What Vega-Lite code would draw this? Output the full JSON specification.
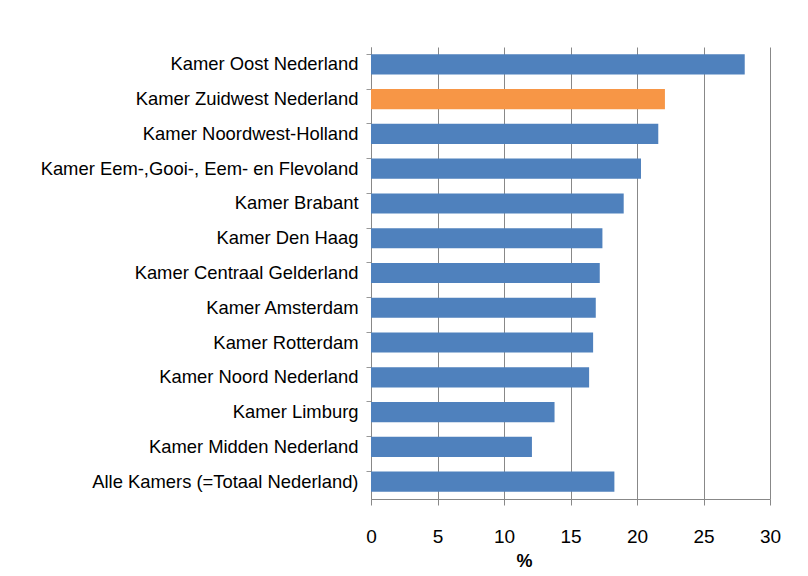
{
  "$schema": "https://vega.github.io/schema/vega-lite/v6.json",
  "autosize": {"type": "none"},
  "padding": {"left": 371, "top": 47, "right": 38, "bottom": 77},
  "width": 399,
  "height": 452,
  "background": "white",
  "data": {"values": [
    {"kamer": "Kamer Oost Nederland", "pct": 28.1, "groep": "overig"},
    {"kamer": "Kamer Zuidwest Nederland", "pct": 22.1, "groep": "zuidwest"},
    {"kamer": "Kamer Noordwest-Holland", "pct": 21.6, "groep": "overig"},
    {"kamer": "Kamer Eem-,Gooi-, Eem- en Flevoland", "pct": 20.3, "groep": "overig"},
    {"kamer": "Kamer Brabant", "pct": 19.0, "groep": "overig"},
    {"kamer": "Kamer Den Haag", "pct": 17.4, "groep": "overig"},
    {"kamer": "Kamer Centraal Gelderland", "pct": 17.2, "groep": "overig"},
    {"kamer": "Kamer Amsterdam", "pct": 16.9, "groep": "overig"},
    {"kamer": "Kamer Rotterdam", "pct": 16.7, "groep": "overig"},
    {"kamer": "Kamer Noord Nederland", "pct": 16.4, "groep": "overig"},
    {"kamer": "Kamer Limburg", "pct": 13.8, "groep": "overig"},
    {"kamer": "Kamer Midden Nederland", "pct": 12.1, "groep": "overig"},
    {"kamer": "Alle Kamers (=Totaal Nederland)", "pct": 18.3, "groep": "overig"}
  ]},
  "mark": {"type": "bar"},
  "encoding": {
    "y": {
      "field": "kamer", "type": "nominal", "sort": null,
      "scale": {"paddingInner": 0.42, "paddingOuter": 0.21},
      "axis": {
        "title": null, "bandPosition": 0, "ticks": true, "tickSize": 5,
        "tickColor": "#999", "domainColor": "#888", "grid": false,
        "labelFont": "Liberation Sans", "labelFontSize": 18.4, "labelColor": "#000",
        "labelPadding": 8, "labelLimit": 400
      }
    },
    "x": {
      "field": "pct", "type": "quantitative",
      "scale": {"domain": [0, 30], "nice": false},
      "axis": {
        "values": [0, 5, 10, 15, 20, 25, 30], "title": "%",
        "titleFont": "Liberation Sans", "titleFontSize": 18, "titleFontWeight": "bold",
        "titleColor": "#000", "titlePadding": 6, "titleX": 153,
        "labelFont": "Liberation Sans", "labelFontSize": 19, "labelColor": "#000",
        "labelPadding": 22, "labelFlush": false, "tickSize": 6, "tickColor": "#888", "domainColor": "#888",
        "grid": true, "gridColor": "#888", "gridOpacity": 1
      }
    },
    "color": {
      "field": "groep", "type": "nominal",
      "scale": {"domain": ["overig", "zuidwest"], "range": ["#4F81BD", "#F79646"]},
      "legend": null
    }
  },
  "config": {"view": {"stroke": null}}
}
